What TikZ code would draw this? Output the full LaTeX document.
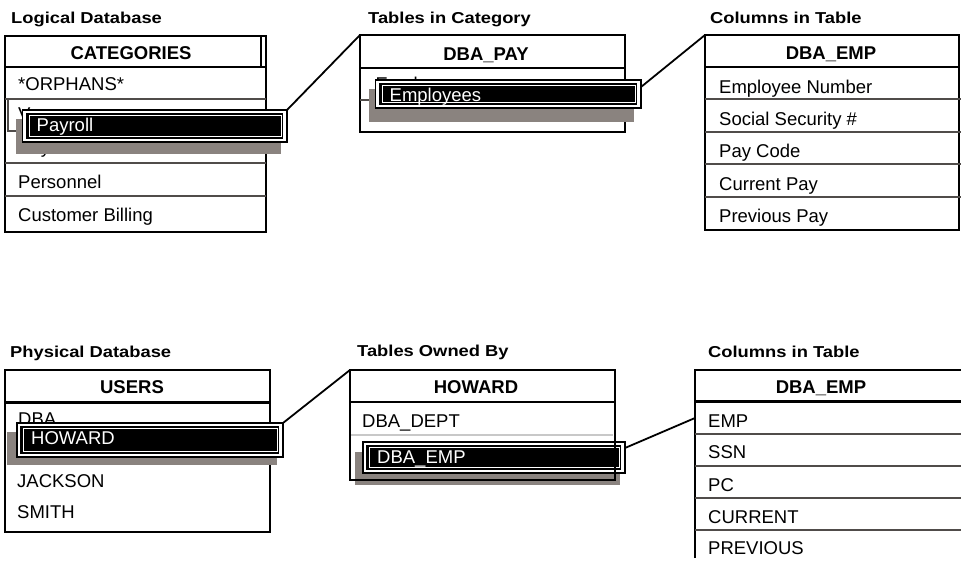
\documentclass[tikz,border=0pt]{standalone}
\usepackage{fontspec}
\setmainfont{Liberation Sans}
\newfontfamily\titlefont{Liberation Sans}[FakeStretch=1.16]
\definecolor{shade}{RGB}{138,131,127}
\definecolor{sepgray}{RGB}{80,76,74}
\definecolor{lightsep}{RGB}{200,200,200}

\tikzset{
  tblframe/.style={draw=black, line width=2.4pt, inner sep=0pt, outer sep=0pt, fill=white},
  tblanchor/.style={draw=none, inner sep=0pt, outer sep=0pt},
  tbledge/.style={draw=black, line width=2.4pt},
  hdrline/.style={draw=black, line width=2.2pt},
  rowline/.style={draw=sepgray, line width=1.8pt},
  rowtxt/.style={anchor=base west, inner sep=0pt, font=\fontsize{18.5}{20}\selectfont},
  hdrtxt/.style={anchor=base, inner sep=0pt, font=\fontsize{18.5}{20}\selectfont\bfseries},
  paneltitle/.style={anchor=base west, inner sep=0pt, font=\titlefont\fontsize{15.8}{18}\selectfont\bfseries},
  shadowfill/.style={fill=shade},
  popframe/.style={draw=black, fill=white, line width=1.1pt, inner sep=0pt, outer sep=0pt},
  poptxt/.style={anchor=base west, inner sep=0pt, text=white, font=\fontsize{18.5}{20}\selectfont},
  link/.style={draw=black, line width=1.8pt},
}

% highlighted pop-up entry: name, x1, y1, x2, y2, label
\newcommand\popentry[6]{%
  \node[popframe, minimum width={#4-#2}, minimum height={#5-#3}] (#1) at ({(#2+#4)/2},{(#3+#5)/2}) {};
  \fill[black] ([shift={(3.2,3)}]#1.north west) rectangle ([shift={(-3.6,-3.2)}]#1.south east);
  \draw[white, line width=0.9pt] ([shift={(6.5,5.5)}]#1.north west) rectangle ([shift={(-6,-5.5)}]#1.south east);
  \node[poptxt] (#1-text) at ([shift={(14,21.5)}]#1.north west) {#6};
}

\begin{document}
\begin{tikzpicture}[x=1pt, y=-1pt]
\useasboundingbox (0,0) rectangle (961,565);

% ---------------- panel titles ----------------
\node[paneltitle] (tLog)  at (11,23)  {Logical Database};
\node[paneltitle] (tCat)  at (368,23) {Tables in Category};
\node[paneltitle] (tCol1) at (710,23) {Columns in Table};
\node[paneltitle] (tPhy)  at (10,357) {Physical Database};
\node[paneltitle] (tOwn)  at (357,356) {Tables Owned By};
\node[paneltitle] (tCol2) at (708,357) {Columns in Table};

% ---------------- CATEGORIES ----------------
\node[tblframe, anchor=north west, minimum width=261, minimum height=196] (catT) at (5,36) {};
\draw[hdrline] (5,67) -- (266,67);
\draw[black, line width=1.4pt] (261,36) -- (261,67);
\node[hdrtxt] (catH) at (131,59) {CATEGORIES};
\draw[rowline] (5,99) -- (266,99);
\draw[rowline] (5,163) -- (266,163);
\draw[rowline] (5,196) -- (266,196);
\node[rowtxt] (catR1) at (18,90) {*ORPHANS*};
\node[rowtxt] (catR2) at (18,120) {V};
\draw[sepgray, line width=1.2pt] (8,100) -- (8,131) -- (17,131);
\node[rowtxt] (catR3) at (18,153) {Payroll};
\node[rowtxt] (catR4) at (18,188) {Personnel};
\node[rowtxt] (catR5) at (18,221) {Customer Billing};

% ---------------- DBA_PAY ----------------
\node[tblframe, anchor=north west, minimum width=265, minimum height=97] (payT) at (360,35) {};
\draw[hdrline] (360,68) -- (625,68);
\node[hdrtxt] (payH) at (486,60) {DBA\_PAY};
\draw[rowline] (360,100) -- (625,100);
\node[rowtxt] (payR1) at (375.5,90) {Employees};

% ---------------- DBA_EMP (categories) ----------------
\node[tblframe, anchor=north west, minimum width=254, minimum height=195] (empT) at (705,35) {};
\draw[hdrline] (705,67) -- (959,67);
\node[hdrtxt] (empH) at (831,59) {DBA\_EMP};
\foreach \yy in {99,132,164,197} \draw[rowline] (705,\yy) -- (961,\yy);
\node[rowtxt] (empR1) at (719,93)  {Employee Number};
\node[rowtxt] (empR2) at (719,125) {Social Security \#};
\node[rowtxt] (empR3) at (719,157) {Pay Code};
\node[rowtxt] (empR4) at (719,190) {Current Pay};
\node[rowtxt] (empR5) at (719,222) {Previous Pay};

% ---------------- USERS ----------------
\node[tblframe, anchor=north west, minimum width=265, minimum height=162] (usrT) at (5,370) {};
\draw[black, line width=3pt] (5,402.5) -- (270,402.5);
\node[hdrtxt] (usrH) at (132,393) {USERS};
\node[rowtxt] (usrR1) at (18,425) {DBA};
\node[rowtxt] (usrR3) at (17,487) {JACKSON};
\node[rowtxt] (usrR4) at (17,518) {SMITH};

% ---------------- HOWARD ----------------
\node[tblframe, anchor=north west, minimum width=265, minimum height=110] (howT) at (350,370) {};
\draw[hdrline] (350,402) -- (615,402);
\node[hdrtxt] (howH) at (476,393) {HOWARD};
\draw[lightsep, line width=1.6pt] (351,435) -- (613,435);
\node[rowtxt] (howR1) at (362,427) {DBA\_DEPT};

% ---------------- DBA_EMP (owner) ----------------
\node[tblanchor, anchor=north west, minimum width=270, minimum height=188] (empB) at (695,370) {};
\draw[tbledge] (empB.south west) -- (empB.north west) -- (empB.north east);
\draw[hdrline] (695,401.5) -- (965,401.5);
\foreach \yy in {434,466,498,530} \draw[rowline] (695,\yy) -- (965,\yy);
\node[hdrtxt] (empBH) at (821,393) {DBA\_EMP};
\node[rowtxt] (empBR1) at (708,427) {EMP};
\node[rowtxt] (empBR2) at (708,458) {SSN};
\node[rowtxt] (empBR3) at (708,491) {PC};
\node[rowtxt] (empBR4) at (708,523) {CURRENT};
\node[rowtxt] (empBR5) at (708,554) {PREVIOUS};
\coordinate (empBjoin) at (695,418);

% ---------------- drop shadows ----------------
\fill[shadowfill] (16,119) rectangle (281,154);
\fill[shadowfill] (369,89) rectangle (634,122);
\fill[shadowfill] (7,432) rectangle (277,465);
\fill[shadowfill] (355,452) rectangle (620,485);

% ---------------- highlighted entries ----------------
\popentry{payPop}{22.5}{110}{287}{142}{Payroll}
\popentry{empPop}{375.5}{80}{641}{108}{Employees}
\popentry{howPop}{17}{423}{283}{457}{HOWARD}
\popentry{dbaPop}{363}{442}{625}{473}{DBA\_EMP}

% HOWARD frame edges lie on top of its entry and shadow
\draw[tbledge] (howT.north east) -- (howT.south east) -- (howT.south west);

% ---------------- connectors ----------------
\draw[link] (payPop.north east) -- (payT.north west);
\draw[link] ([yshift=-7pt]empPop.north east) -- (empT.north west);
\draw[link] (howPop.north east) -- (howT.north west);
\draw[link] ([yshift=-6pt]dbaPop.north east) -- (empBjoin);
\end{tikzpicture}
\end{document}
